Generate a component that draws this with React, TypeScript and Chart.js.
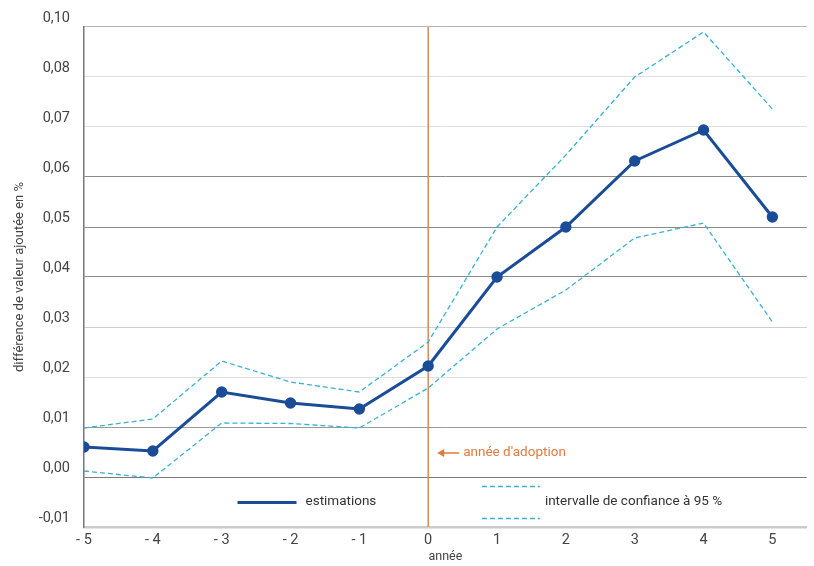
import React, { useEffect, useRef } from 'react';
import { Chart, registerables } from 'chart.js';
Chart.register(...registerables);

const years = [-5, -4, -3, -2, -1, 0, 1, 2, 3, 4, 5];
const estimations = [0.006, 0.0052, 0.017, 0.0148, 0.0136, 0.0222, 0.04, 0.05, 0.0632, 0.0694, 0.052];
const upperCI = [0.0098, 0.0116, 0.0232, 0.019, 0.017, 0.027, 0.05, 0.0644, 0.08, 0.089, 0.0736];
const lowerCI = [0.0012, -0.0002, 0.0108, 0.0107, 0.0098, 0.0178, 0.0296, 0.0374, 0.0478, 0.0508, 0.031];
const yTickLabels = ['-0,01', '0,00', '0,01', '0,02', '0,03', '0,04', '0,05', '0,06', '0,07', '0,08', '0,10'];
const gridColors = ['#cfcfcf', '#7a7a7a', '#9a9a9a', '#dedede', '#cfcfcf', '#8a8a8a', '#8a8a8a', '#8a8a8a', '#dedede', '#dedede', '#b5b5b5'];
const adoptionYear = 0;
const adoptionLabel = "année d'adoption";
const legendEstimations = 'estimations';
const legendCI = 'intervalle de confiance à 95 %';

const FONT = 'Roboto, "Noto Sans", sans-serif';
const BLUE = '#1a4c98';
const LIGHTBLUE = '#39b1d4';
const ORANGE = '#e07a40';

const overlay = {
  id: 'overlay',
  beforeDatasetsDraw(chart: any) {
    const { ctx, chartArea, scales } = chart;
    const x = scales.x.getPixelForValue(adoptionYear);
    ctx.save();
    ctx.strokeStyle = '#d98a5c';
    ctx.lineWidth = 1.5;
    ctx.beginPath();
    ctx.moveTo(x, chartArea.top);
    ctx.lineTo(x, chartArea.bottom);
    ctx.stroke();
    ctx.restore();
  },
  afterDraw(chart: any) {
    const { ctx, scales } = chart;
    const x0 = scales.x.getPixelForValue(adoptionYear);
    const ya = scales.y.getPixelForValue(0.0048);
    ctx.save();
    // arrow
    ctx.strokeStyle = ORANGE;
    ctx.fillStyle = ORANGE;
    ctx.lineWidth = 1.5;
    ctx.beginPath();
    ctx.moveTo(x0 + 13, ya);
    ctx.lineTo(x0 + 31, ya);
    ctx.stroke();
    ctx.beginPath();
    ctx.moveTo(x0 + 9, ya);
    ctx.lineTo(x0 + 16, ya - 4);
    ctx.lineTo(x0 + 16, ya + 4);
    ctx.closePath();
    ctx.fill();
    ctx.font = '13.5px ' + FONT;
    ctx.textBaseline = 'middle';
    ctx.textAlign = 'left';
    ctx.fillText(adoptionLabel, x0 + 35, ya);

    // legend
    const xl = scales.x;
    const yl = scales.y;
    const ly = yl.getPixelForValue(-0.0049);
    const sx = xl.getPixelForValue(-2.77);
    ctx.strokeStyle = BLUE;
    ctx.lineWidth = 3;
    ctx.beginPath();
    ctx.moveTo(sx, ly + 1);
    ctx.lineTo(sx + 59, ly + 1);
    ctx.stroke();
    ctx.fillStyle = '#333';
    ctx.fillText(legendEstimations, sx + 68, ly);

    const dx = xl.getPixelForValue(0.78);
    ctx.strokeStyle = LIGHTBLUE;
    ctx.lineWidth = 1.3;
    ctx.setLineDash([5, 3]);
    ctx.beginPath();
    ctx.moveTo(dx, ly - 15);
    ctx.lineTo(dx + 58, ly - 15);
    ctx.moveTo(dx, ly + 17);
    ctx.lineTo(dx + 58, ly + 17);
    ctx.stroke();
    ctx.setLineDash([]);
    ctx.fillText(legendCI, dx + 63, ly);
    ctx.restore();
  },
};

export default function App() {
  const ref = useRef<HTMLCanvasElement>(null);
  useEffect(() => {
    document.body.style.margin = '0';
    const mk = (arr: number[]) => years.map((x, i) => ({ x, y: arr[i] }));
    const chart = new Chart(ref.current!, {
      type: 'line',
      data: {
        datasets: [
          {
            label: 'upper',
            data: mk(upperCI),
            borderColor: LIGHTBLUE,
            borderWidth: 1.3,
            borderDash: [5, 3],
            pointRadius: 0,
            fill: false,
            tension: 0,
          },
          {
            label: 'lower',
            data: mk(lowerCI),
            borderColor: LIGHTBLUE,
            borderWidth: 1.3,
            borderDash: [5, 3],
            pointRadius: 0,
            fill: false,
            tension: 0,
          },
          {
            label: legendEstimations,
            data: mk(estimations),
            borderColor: BLUE,
            backgroundColor: BLUE,
            borderWidth: 3,
            pointRadius: 4.2,
            pointBackgroundColor: BLUE,
            pointBorderColor: BLUE,
            fill: false,
            tension: 0,
          },
        ],
      },
      options: {
        responsive: false,
        animation: false,
        layout: { padding: { left: 0, right: 6, top: 27, bottom: 0 } },
        plugins: { legend: { display: false }, tooltip: { enabled: false } },
        scales: {
          x: {
            type: 'linear',
            min: -5,
            max: 5.5,
            afterBuildTicks: (s: any) => {
              s.ticks = years.map((v) => ({ value: v }));
            },
            afterFit: (s: any) => {
              s.height = 39;
            },
            grid: { display: false, drawTicks: false },
            border: { display: true, color: '#cccccc', width: 2.5 },
            ticks: {
              padding: 5,
              color: '#444',
              font: { family: FONT, size: 14.5 },
              callback: (v: any) => (v < 0 ? '- ' + Math.abs(v) : String(v)),
            },
            title: {
              display: true,
              text: 'année',
              color: '#444',
              font: { family: FONT, size: 12.5 },
              padding: { top: 0, bottom: 2 },
            },
          },
          y: {
            type: 'linear',
            min: -0.01,
            max: 0.09,
            afterBuildTicks: (s: any) => {
              s.ticks = yTickLabels.map((_, i) => ({ value: -0.01 + i * 0.01 }));
            },
            afterFit: (s: any) => {
              s.width = 84;
            },
            grid: {
              drawTicks: false,
              color: (c: any) => gridColors[c.index] || '#ddd',
              lineWidth: 1,
            },
            border: { display: true, color: '#777', width: 1.5 },
            ticks: {
              padding: 14,
              labelOffset: -9,
              color: '#444',
              font: { family: FONT, size: 14.5 },
              callback: (_v: any, i: number) => yTickLabels[i],
            },
            title: {
              display: true,
              text: 'différence de valeur ajoutée en %',
              color: '#444',
              font: { family: FONT, size: 13 },
              padding: { top: 12, bottom: 0 },
            },
          },
        },
      },
      plugins: [overlay],
    } as any);
    return () => chart.destroy();
  }, []);
  return (
    <div style={{ width: 814, height: 566 }}>
      <canvas ref={ref} width={814} height={566} />
    </div>
  );
}
